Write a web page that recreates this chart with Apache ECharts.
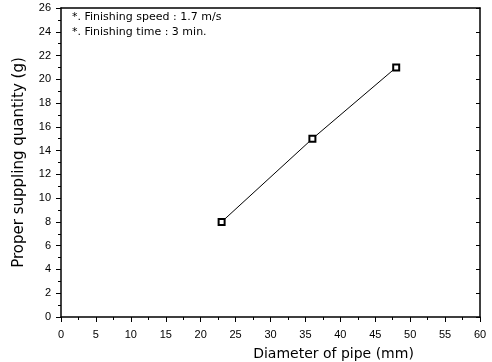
<!DOCTYPE html>
<html>
<head>
<meta charset="utf-8">
<script src="https://cdn.jsdelivr.net/npm/echarts@6/dist/echarts.min.js"></script>
<style>
  html, body { margin: 0; padding: 0; background: #fff; }
  #chart { width: 492px; height: 362px; }
</style>
</head>
<body>
<div id="chart"></div>
<script>
// 管径 (mm) 与合适供给量 (g)
var diameters = [23, 36, 48];
var quantities = [8, 15, 21];
var notes = ['*. Finishing speed : 1.7 m/s', '*. Finishing time : 3 min.'];

var chart = echarts.init(document.getElementById('chart'));
var font = 'Liberation Sans, Arial, sans-serif';
var nameFont = 'DejaVu Sans, sans-serif';

var baseAxis = {
  axisLine: { show: true, onZero: false, lineStyle: { color: '#000', width: 1.5 } },
  axisTick: { show: true, length: 5, lineStyle: { color: '#000', width: 1 } },
  minorTick: { show: true, splitNumber: 2, length: 3, lineStyle: { color: '#000' } },
  splitLine: { show: false },
  axisLabel: { color: '#000', fontSize: 11, fontFamily: font }
};

var option = {
  backgroundColor: '#fff',
  animation: false,
  grid: { left: 61, right: 12, top: 8, bottom: 45, outerBoundsMode: 'none', containLabel: false },
  graphic: [{
    type: 'text', left: 72, top: 10,
    style: { text: notes.join('\n'), fontSize: 11, lineHeight: 15, fontFamily: nameFont, fill: '#000' }
  }],
  xAxis: [
    Object.assign({}, baseAxis, {
      type: 'value', min: 0, max: 60, interval: 5,
      axisLabel: { color: '#000', fontSize: 11, fontFamily: font, margin: 12 },
      name: 'Diameter of pipe (mm)', nameLocation: 'middle', nameGap: 30,
      nameTextStyle: { color: '#000', fontSize: 14, fontFamily: nameFont, padding: [0, 0, 0, 126] }
    }),
    Object.assign({}, baseAxis, {
      type: 'value', min: 0, max: 60, interval: 5, position: 'top',
      axisTick: { show: false }, minorTick: { show: false }, axisLabel: { show: false }
    })
  ],
  yAxis: [
    Object.assign({}, baseAxis, {
      type: 'value', min: 0, max: 26, interval: 2,
      axisLabel: { color: '#000', fontSize: 11, fontFamily: font, margin: 10 },
      name: 'Proper suppling quantity (g)', nameLocation: 'middle', nameGap: 34,
      nameTextStyle: { color: '#000', fontSize: 15, fontFamily: nameFont }
    }),
    Object.assign({}, baseAxis, {
      type: 'value', min: 0, max: 26, interval: 2, position: 'right',
      axisTick: { show: true, inside: true, length: 4, lineStyle: { color: '#000' } },
      minorTick: { show: false }, axisLabel: { show: false }
    })
  ],
  series: [{
    type: 'line',
    data: diameters.map(function (d, i) { return [d, quantities[i]]; }),
    symbol: 'rect', symbolSize: 6,
    lineStyle: { color: '#000', width: 1 },
    itemStyle: { color: '#fff', borderColor: '#000', borderWidth: 2 }
  }]
};
chart.setOption(option);
</script>
</body>
</html>
